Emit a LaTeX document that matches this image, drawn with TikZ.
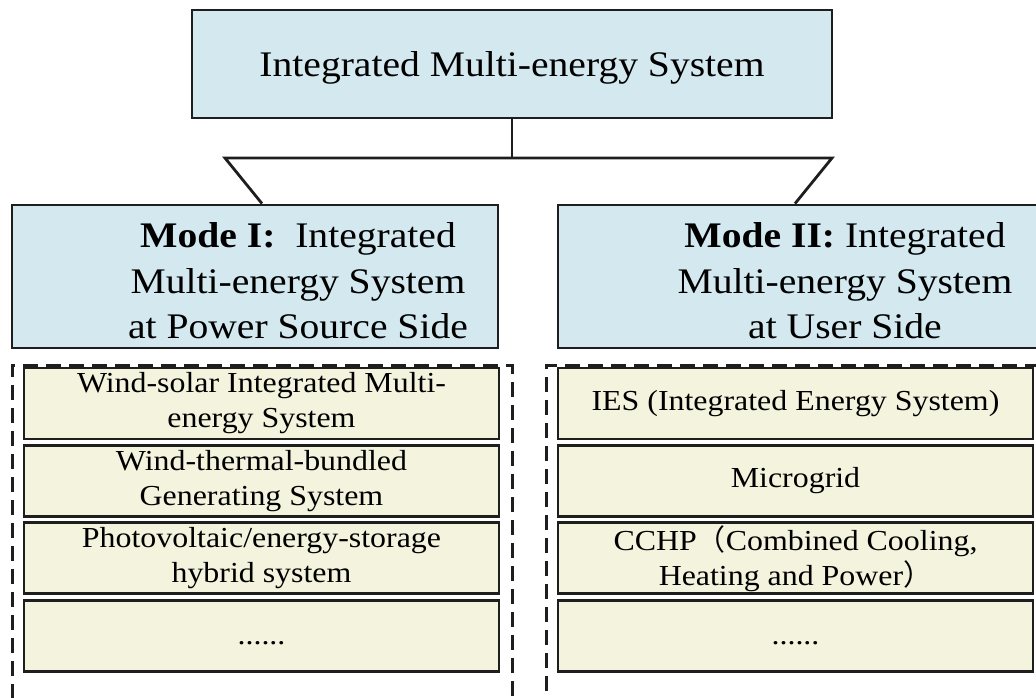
\documentclass[tikz,border=0pt]{standalone}
\usepackage{fontspec}
\setmainfont{Liberation Serif}[FakeStretch=1.1]
\newfontfamily\cjk{Noto Sans CJK SC}
\usepackage{tikz}
\usetikzlibrary{positioning}
\definecolor{modeblue}{HTML}{D3E9EF}
\definecolor{itemcream}{HTML}{F3F3DE}
\definecolor{edgegray}{HTML}{1E1E1E}
\tikzset{topbox/.style = {draw=edgegray, line width=2.8pt, fill=modeblue, inner sep=0,
    minimum width=640pt, minimum height=108pt, text depth=0pt,
    font=\fontsize{36}{45}\selectfont}}
\tikzset{modebox/.style = {draw=edgegray, line width=2.8pt, fill=modeblue, inner sep=0,
    minimum width=486pt, minimum height=143pt}}
\tikzset{modetext/.style = {inner sep=0, align=center, font=\fontsize{36}{45.5}\selectfont}}
\tikzset{groupbox/.style = {draw=edgegray, line width=3pt, dash pattern=on 15pt off 8pt,
    inner sep=0, minimum width=500pt, minimum height=360pt}}
\tikzset{itembox/.style = {draw=edgegray, line width=2.8pt, fill=itemcream, inner sep=0,
    minimum width=475pt, minimum height=71pt, align=center,
    font=\fontsize{29}{35}\selectfont}}
\tikzset{link/.style = {draw=edgegray, line width=2.8pt}}
\newcommand{\moredots}{\raisebox{-9pt}[0pt][0pt]{......}}

\begin{document}
\begin{tikzpicture}[x=1pt, y=-1pt]
    \useasboundingbox (0,0) rectangle (1036,698);
    \node [topbox] (ims) at (512, 64) {Integrated Multi-energy System};

    % the two modes
    \node [modebox] (mode1) at (255, 276.5) {};
    \node [modebox] (mode2) at (801, 276.5) {};
    \node [modetext] (mode1txt) at (298, 281) {\textbf{Mode I:}\ \ Integrated\\Multi-energy System\\at Power Source Side};
    \node [modetext] (mode2txt) at (845, 281) {\textbf{Mode II:} Integrated\\Multi-energy System\\at User Side};

    % fork from the top box
    \coordinate (fork) at (512, 158);
    \coordinate (forkL) at (225, 158);
    \coordinate (forkR) at (832, 158);
    \draw [link] (ims.south) -- (fork);
    \draw [link, line join=miter] ([xshift=7pt]mode1.north) -- (forkL) -- (forkR) -- ([xshift=-6pt]mode2.north);

    % dashed groups
    \node [groupbox] (srcgroup) at (262, 545) {};
    \node [groupbox, minimum width=504pt] (usrgroup) at (798, 545) {};

    \foreach \i/\txt in {1/{Wind-solar Integrated Multi-\\energy System},
                         2/{Wind-thermal-bundled\\Generating System},
                         3/{Photovoltaic/energy-storage\\hybrid system},
                         4/{\moredots}}{
      \node [itembox] (src\i) at (261.5, 403.5 + 77.4*\i - 77.4) {\txt};
    }
    \foreach \i/\txt in {1/{IES (Integrated Energy System)},
                         2/{Microgrid},
                         3/{CCHP{\cjk （}Combined Cooling,\\Heating and Power{\cjk ）}},
                         4/{\moredots}}{
      \node [itembox] (usr\i) at (795.5, 403.5 + 77.4*\i - 77.4) {\txt};
    }
\end{tikzpicture}
\end{document}
